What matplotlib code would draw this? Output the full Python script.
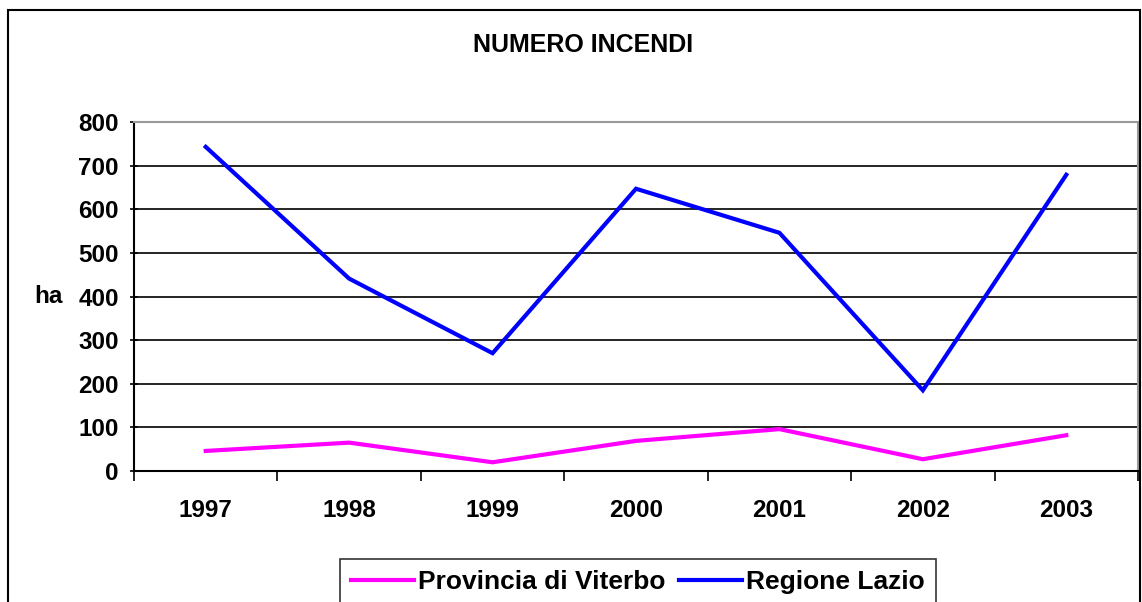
import numpy as np
import matplotlib
matplotlib.use("Agg")
import matplotlib.pyplot as plt
from matplotlib.patches import Rectangle

plt.rcParams['font.family'] = ['Liberation Sans', 'DejaVu Sans']
plt.rcParams['font.weight'] = 'bold'

years = ["1997", "1998", "1999", "2000", "2001", "2002", "2003"]
viterbo = [46, 65, 20, 69, 96, 27, 82]
lazio = [743, 441, 270, 647, 546, 185, 679]

fig = plt.figure(figsize=(11.42, 6.02), dpi=100)
ax = fig.add_axes([134/1142, 1-471/602, (1138-134)/1142, (471-122)/602])

x = np.arange(len(years))
ax.plot(x, viterbo, color="#ff00ff", lw=3, label="Provincia di Viterbo", solid_joinstyle="miter")
ax.plot(x, lazio, color="#0000ff", lw=3, label="Regione Lazio", solid_joinstyle="miter")

ax.set_xlim(-0.5, len(years) - 0.5)
ax.set_ylim(0, 800)
ax.set_yticks(np.arange(0, 801, 100))
ax.yaxis.grid(True, color="black", lw=1.2)
ax.set_axisbelow(True)

ax.set_xticks(x)
ax.set_xticklabels(years, fontsize=17.5, fontweight="bold")
ax.tick_params(axis="x", which="major", length=0, pad=20)
ax.set_xticks(np.arange(-0.5, len(years)), minor=True)
ax.tick_params(axis="x", which="minor", length=7, width=1.2, direction="out")
ax.tick_params(axis="y", length=6, width=1.2, direction="inout", labelsize=17.5, pad=8)
for lab in ax.get_yticklabels():
    lab.set_fontweight("bold")

for s in ["left", "bottom"]:
    ax.spines[s].set_color("black")
    ax.spines[s].set_linewidth(1.5)
for s in ["top", "right"]:
    ax.spines[s].set_color("#999999")
    ax.spines[s].set_linewidth(1.5)

ax.set_ylabel("ha", rotation=0, fontsize=17.5, fontweight="bold", va="center", ha="center")
ax.yaxis.set_label_coords(-0.085, 0.5)

fig.text(583/1142, 1-45/602, "NUMERO INCENDI", ha="center", va="center",
         fontsize=18, fontweight="bold")

leg = fig.legend(loc="center", bbox_to_anchor=(638/1142, 1-582/602), ncol=2,
                 frameon=True, fancybox=False, edgecolor="black",
                 handlelength=2.4, handletextpad=0.15, columnspacing=0.5,
                 borderpad=0.4, prop={"weight": "bold", "size": 19})
leg.get_frame().set_linewidth(1.2)

fig.patches.append(Rectangle((8/1142, -0.1), (1140-8)/1142, 1.1-10/602,
                             transform=fig.transFigure, fill=False,
                             edgecolor="black", lw=1.5))

plt.savefig("out.png", dpi=100)
